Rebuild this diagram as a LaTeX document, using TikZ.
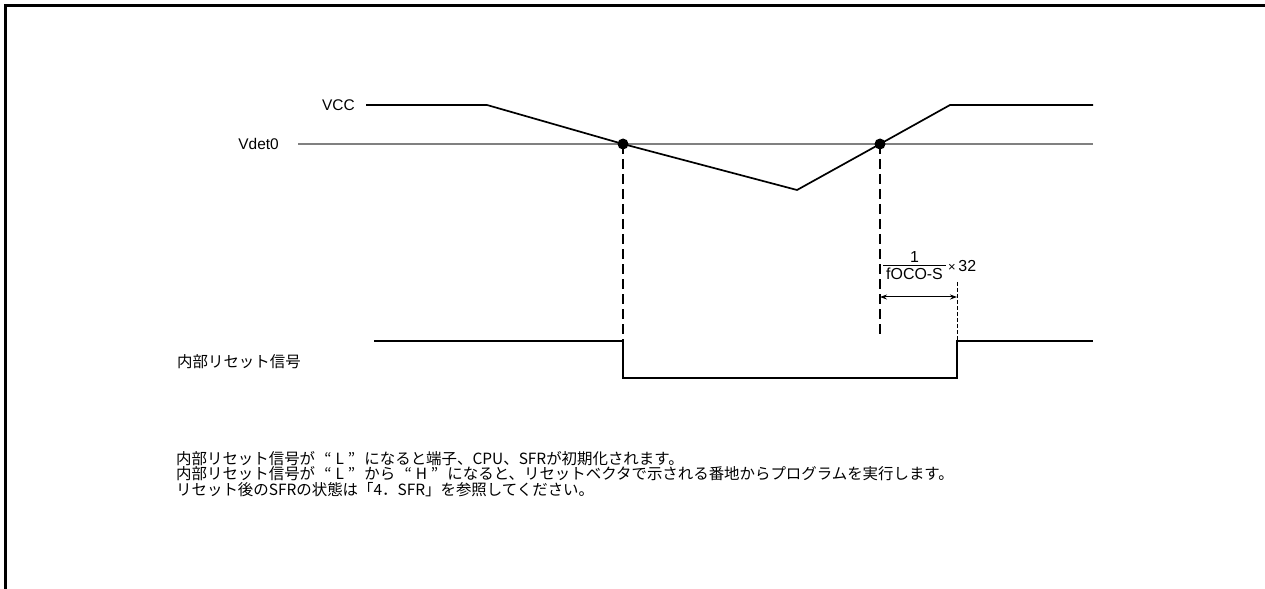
\documentclass[tikz,border=0pt]{standalone}
\usepackage{fontspec}
\setmainfont{Liberation Sans}
\newfontfamily\cjk{Noto Sans CJK JP}
\usetikzlibrary{arrows.meta}
\newcommand{\qL}[1]{\hspace{0.6em}“\hspace{0.25em}#1\hspace{0.25em}”\hspace{0.6em}}
\begin{document}
\begin{tikzpicture}[x=1bp,y=-1bp,
  wave/.style={line width=1.7bp, line join=miter},
  thresh/.style={line width=1.2bp, draw=black!50},
  guide/.style={line width=1.5bp, dash pattern=on 10bp off 5bp},
  fineguide/.style={line width=1bp, dash pattern=on 4bp off 2bp},
  lbl/.style={inner sep=0pt, font=\fontsize{15.5}{16}\selectfont},
  flbl/.style={inner sep=0pt, font=\fontsize{16}{17}\selectfont},
  jlbl/.style={inner sep=0pt, font=\cjk\fontsize{15.5}{16}\selectfont},
  dot/.style={circle, fill=black, inner sep=0pt, minimum size=11bp},
  dim/.style={line width=1bp, {Stealth[length=7bp,width=5bp]}-{Stealth[length=7bp,width=5bp]}}
]
\useasboundingbox (0,0) rectangle (1265,589);
\draw[line width=3bp] (5.5,589) -- (5.5,5.5) -- (1265,5.5);

% threshold
\coordinate (t0) at (298,144);
\coordinate (t1) at (1093,144);
\draw[thresh] (t0) -- (t1);

% VCC waveform
\coordinate (v0) at (366,105);
\coordinate (v1) at (487,105);
\coordinate (vmin) at (797,190);
\coordinate (v2) at (950,105);
\coordinate (v3) at (1093,105);
\node[dot] (d1) at (623,144) {};
\node[dot] (d2) at (880,144) {};
\draw[wave] (v0) -- (v1) -- (d1.center) -- (vmin) -- (d2.center) -- (v2) -- (v3);

\node[lbl, anchor=east] (vcc) at (355,105) {VCC};
\node[lbl, anchor=east] (vdet) at (279,144) {Vdet0};

% reset signal
\coordinate (r0) at (374,341);
\coordinate (r1) at (623,341);
\coordinate (r2) at (623,378);
\coordinate (r3) at (957,378);
\coordinate (r4) at (957,341);
\coordinate (r5) at (1093,341);
\draw[wave] (r0) -- (r1) -- (r2) -- (r3) -- (r4) -- (r5);
\node[jlbl, anchor=base west] (rst) at (177,368) {内部リセット信号};

% guides
\coordinate (e2) at (880,339);
\coordinate (f0) at (957,282);
\draw[guide] (d1.center) -- (r1);
\draw[guide] (d2.center) -- (e2);
\draw[fineguide] (f0) -- (r4);

% dimension arrow
\coordinate (a0) at (880,297);
\coordinate (a1) at (957,297);
\draw[dim] (a0) -- (a1);

% fraction
\coordinate (b0) at (883,265);
\coordinate (b1) at (946,265);
\draw[line width=0.9bp] (b0) -- (b1);
\node[flbl, anchor=south] (num) at (914.5,263) {1};
\node[flbl, anchor=north] (den) at (914.5,267.5) {fOCO-S};
\node[flbl, anchor=west] (times) at (948,266) {{\fontsize{13}{13}\selectfont ×}\,32};

% notes
\node[jlbl, anchor=base west] (n1) at (176,464) {内部リセット信号が\qL{L}になると端子、CPU、SFRが初期化されます。};
\node[jlbl, anchor=base west] (n2) at (176,479.5) {内部リセット信号が\qL{L}から\qL{H}になると、リセットベクタで示される番地からプログラムを実行します。};
\node[jlbl, anchor=base west] (n3) at (176,495) {リセット後のSFRの状態は「4．SFR」を参照してください。};
\end{tikzpicture}
\end{document}
